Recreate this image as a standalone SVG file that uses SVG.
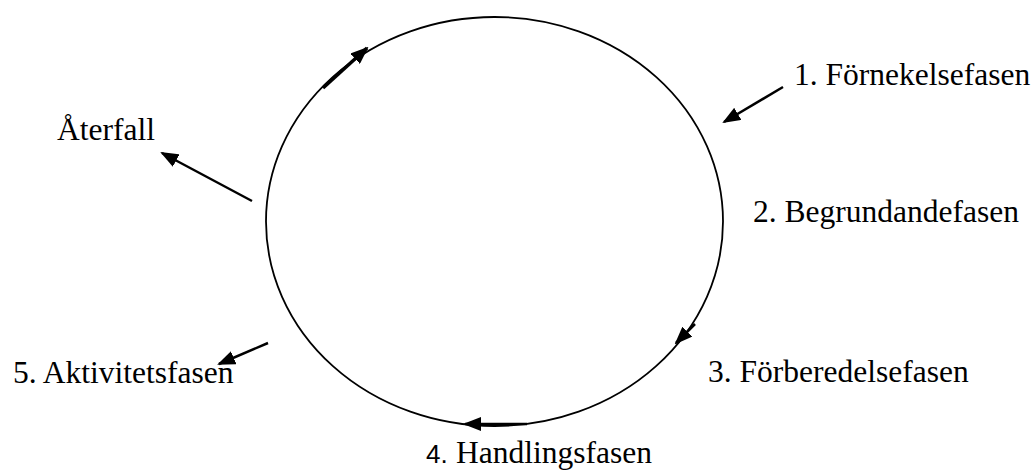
<svg xmlns="http://www.w3.org/2000/svg" width="1035" height="471" viewBox="0 0 1035 471">
  <style>
    .lbl { font-family: "Liberation Serif", "Times New Roman", serif; font-size: 31.5px; fill: #000; }
    .sans { font-family: "Liberation Sans", Arial, sans-serif; font-size: 26px; }
    .arr { stroke: #000; stroke-width: 2.5; fill: none; marker-end: url(#ah); }
    .cyc { stroke: #000; stroke-width: 1.8; fill: none; }
  </style>
  <defs>
    <marker id="ah" markerUnits="userSpaceOnUse" markerWidth="18" markerHeight="14" refX="16" refY="7" orient="auto">
      <path d="M0,0 L18,7 L0,14 z" fill="#000"/>
    </marker>
  </defs>
  <rect width="1035" height="471" fill="#fff"/>
  <g id="cycle">
    <ellipse class="cyc" cx="494.5" cy="221.5" rx="228.5" ry="204.5"/>
  </g>
  <g id="connectors">
    <line class="arr" x1="323" y1="88" x2="367" y2="48" style="stroke-width:3.5"/>
    <line class="arr" x1="783" y1="87" x2="724" y2="122"/>
    <line class="arr" x1="695" y1="324" x2="676" y2="343"/>
    <line class="arr" x1="527" y1="424" x2="465" y2="424"/>
    <line class="arr" x1="252" y1="201" x2="162" y2="153"/>
    <line class="arr" x1="268" y1="343" x2="219" y2="364"/>
  </g>
  <g id="n1"><text class="lbl" x="794" y="85">1. Förnekelsefasen</text></g>
  <g id="n2"><text class="lbl" x="753" y="222">2. Begrundandefasen</text></g>
  <g id="n3"><text class="lbl" x="708" y="382">3. Förberedelsefasen</text></g>
  <g id="n4"><text class="lbl" x="426" y="463"><tspan class="sans">4.</tspan><tspan x="456">Handlingsfasen</tspan></text></g>
  <g id="n5"><text class="lbl" x="13" y="383">5. Aktivitetsfasen</text></g>
  <g id="relapse"><text class="lbl" x="57" y="140">Återfall</text></g>
</svg>
